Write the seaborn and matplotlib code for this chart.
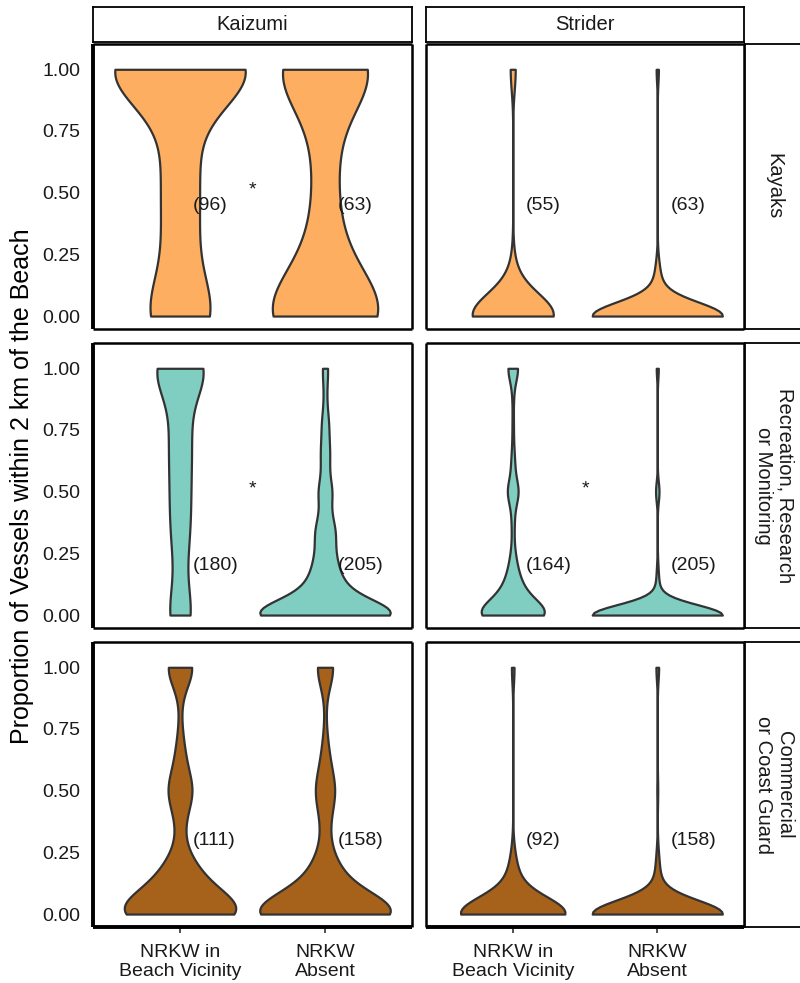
import numpy as np
import pandas as pd
import matplotlib
matplotlib.use("Agg")
import matplotlib.pyplot as plt
import seaborn as sns

sns.set_theme(style="white")
plt.rcParams['font.family'] = ['Liberation Sans', 'DejaVu Sans']

# ---------------- data ----------------
SITES = ["Kaizumi", "Strider"]
VESSELS = ["Kayaks", "Recreation, Research\nor Monitoring", "Commercial\nor Coast Guard"]
CONDITIONS = ["NRKW in\nBeach Vicinity", "NRKW\nAbsent"]
Y_TICKS = [0.00, 0.25, 0.50, 0.75, 1.00]

# proportion values observed, and number of observations at each value
VALUES = [0, 0.05, 0.1, 0.15, 0.2, 0.25, 0.33, 0.4, 0.5, 0.6, 0.67, 0.75, 0.8, 0.9, 1.0]

kaizumi_kayaks_vicinity   = [20, 0, 1, 0, 2, 3, 3, 3, 5, 3, 3, 3, 1, 1, 48]
kaizumi_kayaks_absent     = [24, 0, 2, 1, 2, 2, 2, 1, 2, 1, 2, 1, 1, 1, 21]
strider_kayaks_vicinity   = [45, 2, 3, 1, 1, 0, 0, 0, 0, 0, 0, 0, 0, 0, 3]
strider_kayaks_absent     = [56, 2, 2, 1, 1, 0, 0, 0, 0, 0, 0, 0, 0, 0, 1]

kaizumi_rec_vicinity      = [27, 1, 1, 2, 4, 6, 9, 10, 13, 10, 10, 10, 7, 7, 63]
kaizumi_rec_absent        = [98, 16, 16, 10, 8, 8, 12, 6, 10, 4, 5, 3, 3, 2, 4]
strider_rec_vicinity      = [70, 22, 14, 8, 5, 3, 2, 3, 14, 4, 2, 1, 1, 2, 13]
strider_rec_absent        = [188, 3, 3, 2, 1, 0, 0, 0, 5, 0, 0, 0, 0, 0, 3]

kaizumi_comm_vicinity     = [44, 10, 10, 7, 5, 2, 1, 3, 10, 3, 2, 1, 0, 1, 12]
kaizumi_comm_absent       = [82, 12, 11, 8, 6, 3, 2, 4, 11, 4, 2, 1, 0, 1, 11]
strider_comm_vicinity     = [74, 5, 5, 3, 2, 1, 0, 0, 0, 0, 0, 0, 0, 0, 2]
strider_comm_absent       = [140, 5, 4, 2, 2, 1, 0, 0, 1, 0, 0, 0, 0, 0, 3]

# kernel bandwidth of each violin (vicinity, absent)
BANDWIDTHS = {
    (0, 0): (0.15, 0.16), (0, 1): (0.085, 0.055),
    (1, 0): (0.11, 0.055), (1, 1): (0.05, 0.042),
    (2, 0): (0.075, 0.075), (2, 1): (0.065, 0.055),
}

ROW_COLORS = ["#FDAE61", "#80CDC1", "#A6611A"]
LABEL_Y = [0.45, 0.20, 0.30]            # height of the (n) labels in each row
STAR_PANELS = [(0, 0), (1, 0), (1, 1)]  # (row, col) with significance star

panel_counts = {
    (0, 0): (kaizumi_kayaks_vicinity, kaizumi_kayaks_absent),
    (0, 1): (strider_kayaks_vicinity, strider_kayaks_absent),
    (1, 0): (kaizumi_rec_vicinity, kaizumi_rec_absent),
    (1, 1): (strider_rec_vicinity, strider_rec_absent),
    (2, 0): (kaizumi_comm_vicinity, kaizumi_comm_absent),
    (2, 1): (strider_comm_vicinity, strider_comm_absent),
}

rows = []
for (r, c), pair in panel_counts.items():
    for cond, counts in zip(CONDITIONS, pair):
        for v in np.repeat(VALUES, counts):
            rows.append((SITES[c], VESSELS[r], cond, v))
df = pd.DataFrame(rows, columns=["site", "vessel", "condition", "prop"])


def make_bw(pair, bws):
    """Bandwidth for scipy's gaussian_kde, chosen per violin (identified by its size)."""
    lookup = {int(np.sum(cnt)): bw for cnt, bw in zip(pair, bws)}

    def factor(kde):
        x = np.asarray(kde.dataset).ravel()
        return lookup[x.size] / x.std(ddof=1)
    return factor


# ---------------- layout ----------------
W, H = 800, 983
fig = plt.figure(figsize=(W / 100, H / 100), dpi=100)


def rect(x, y, w, h):
    return [x / W, 1 - (y + h) / H, w / W, h / H]


COL_X = [(93, 319), (426, 318)]
ROW_Y = [44, 343, 642]
PH = 285
TXT = "#1a1a1a"
FS = 14

for r in range(3):
    for c in range(2):
        x0, pw = COL_X[c]
        ax = fig.add_axes(rect(x0, ROW_Y[r], pw, PH))
        sub = df[(df.site == SITES[c]) & (df.vessel == VESSELS[r])]
        sns.violinplot(data=sub, x="condition", y="prop", order=CONDITIONS,
                       color=ROW_COLORS[r], saturation=1, inner=None, cut=0,
                       density_norm="area", width=0.9, linewidth=1.6,
                       linecolor="#333333",
                       bw_method=make_bw(panel_counts[(r, c)], BANDWIDTHS[(r, c)]),
                       ax=ax)
        ax.set_xlim(-0.6, 1.6)
        ax.set_ylim(-0.0525, 1.1025)
        ax.set_yticks(Y_TICKS)
        ax.set_yticklabels([f"{t:.2f}" for t in Y_TICKS])
        ax.set_xlabel("")
        ax.set_ylabel("")
        ax.set_facecolor("white")
        for s in ax.spines.values():
            s.set_visible(True)
            s.set_color("black")
            s.set_linewidth(1.8)
            s.set_capstyle("butt")
        ax.tick_params(axis="both", length=4, width=1.2, color="#333333",
                       labelsize=FS, labelcolor=TXT, pad=5)
        if c == 0:
            ax.spines["left"].set_linewidth(2.8)
        else:
            ax.tick_params(axis="y", left=False, labelleft=False)
        if r == 2:
            ax.spines["bottom"].set_linewidth(2.8)
            ax.tick_params(axis="x", bottom=True, labelbottom=True, pad=8)
            for lab in ax.get_xticklabels():
                lab.set_linespacing(1.15)
        else:
            ax.tick_params(axis="x", bottom=False, labelbottom=False)

        # n labels
        for i, counts in enumerate(panel_counts[(r, c)]):
            ax.text(i + 0.09, LABEL_Y[r], f"({int(np.sum(counts))})",
                    ha="left", va="center", fontsize=FS, color=TXT)
        if (r, c) in STAR_PANELS:
            ax.text(0.5, 0.51, "*", ha="center", va="center", fontsize=FS, color=TXT)

# top strips
for c in range(2):
    x0, pw = COL_X[c]
    sax = fig.add_axes(rect(x0, 7, pw, 35))
    sax.set_xticks([]); sax.set_yticks([])
    sax.set_facecolor("white")
    for s in sax.spines.values():
        s.set_visible(True); s.set_color("black"); s.set_linewidth(1.3)
    sax.text(0.5, 0.5, SITES[c], ha="center", va="center", fontsize=14.5,
             color=TXT, transform=sax.transAxes)

# right strips
for r in range(3):
    sax = fig.add_axes(rect(745, ROW_Y[r], 58, PH))
    sax.set_xticks([]); sax.set_yticks([])
    sax.set_facecolor("white")
    for s in sax.spines.values():
        s.set_visible(True); s.set_color("black"); s.set_linewidth(1.3)
    sax.text(0.5, 0.5, VESSELS[r], ha="center", va="center", rotation=270,
             multialignment="center", linespacing=1.2, fontsize=14.5,
             color=TXT, transform=sax.transAxes)

fig.text(22 / W, 1 - 486 / H, "Proportion of Vessels within 2 km of the Beach",
         rotation=90, ha="center", va="center", fontsize=18, color="black")

fig.savefig("out.png", dpi=100, facecolor="white")
